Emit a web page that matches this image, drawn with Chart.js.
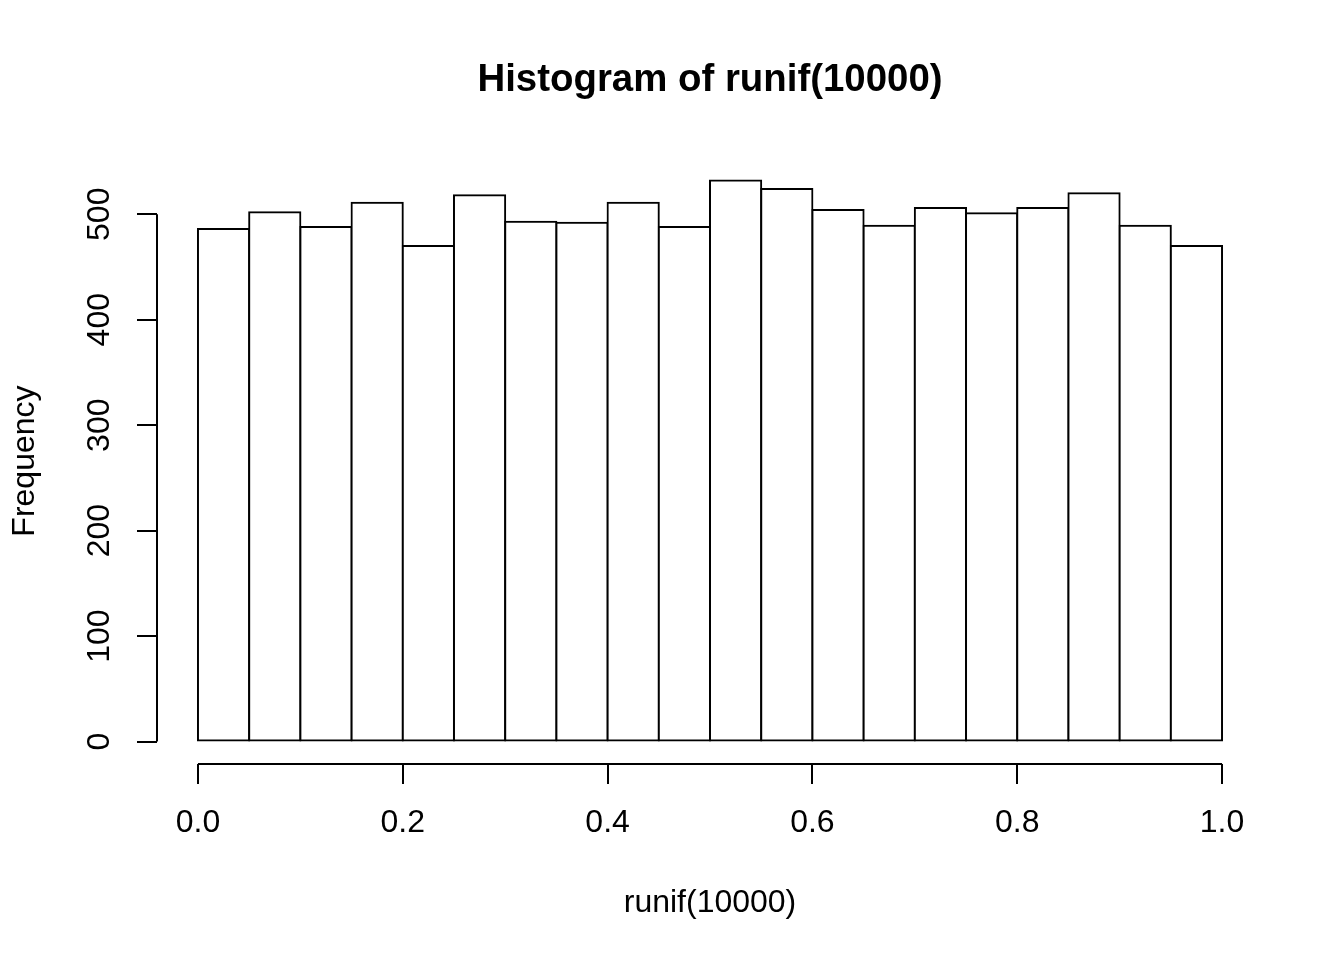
<!DOCTYPE html>
<html>
<head>
<meta charset="utf-8">
<title>Histogram of runif(10000)</title>
<script src="https://cdn.jsdelivr.net/npm/chart.js@4/dist/chart.umd.min.js"></script>
<style>
  html, body { margin: 0; padding: 0; background: #fff; }
  canvas { display: block; }
</style>
</head>
<body>
<canvas id="hist" width="1344" height="960"></canvas>
<script>
'use strict';

// bin edges run 0.00 .. 1.00 in steps of 0.05; centres below
const binCenters = [0.025, 0.075, 0.125, 0.175, 0.225, 0.275, 0.325, 0.375, 0.425, 0.475,
                    0.525, 0.575, 0.625, 0.675, 0.725, 0.775, 0.825, 0.875, 0.925, 0.975];
const counts = [486, 502, 488, 511, 470, 518, 493, 492, 511, 488,
                532, 524, 504, 489, 506, 501, 506, 520, 489, 470];
const xTicks = [0, 0.2, 0.4, 0.6, 0.8, 1.0];
const yTicks = [0, 100, 200, 300, 400, 500];

const FONT = '"Liberation Sans", Arial, Helvetica, sans-serif';
Chart.defaults.font.family = FONT;
Chart.defaults.font.size = 32;
Chart.defaults.color = '#000';

// R pads the data range by 4% on each side
const yMaxData = Math.max(...counts);
const yMin = -0.04 * yMaxData;
const yMax = yMaxData * 1.04;

// axis lines that only span the tick range, like R's axis()
const rAxes = {
  id: 'rAxes',
  afterDatasetsDraw(chart) {
    const { ctx, chartArea, scales: { x, y } } = chart;
    ctx.save();
    ctx.strokeStyle = '#000';
    ctx.lineWidth = 2;
    ctx.beginPath();
    ctx.moveTo(chartArea.left, y.getPixelForValue(yTicks[0]));
    ctx.lineTo(chartArea.left, y.getPixelForValue(yTicks[yTicks.length - 1]));
    ctx.moveTo(x.getPixelForValue(xTicks[0]), chartArea.bottom);
    ctx.lineTo(x.getPixelForValue(xTicks[xTicks.length - 1]), chartArea.bottom);
    ctx.stroke();
    ctx.restore();
  }
};

new Chart(document.getElementById('hist'), {
  type: 'bar',
  data: {
    datasets: [{
      data: binCenters.map((c, i) => ({ x: c, y: counts[i] })),
      backgroundColor: '#fff',
      borderColor: '#000',
      borderWidth: 2,
      borderSkipped: false,
      inflateAmount: 1,   // centre the 2px outline on the bin edges
      barPercentage: 1,
      categoryPercentage: 1,
      grouped: false,
    }]
  },
  options: {
    responsive: false,
    animation: false,
    devicePixelRatio: 1,
    layout: { padding: { left: 0, right: 81, top: 0, bottom: 0 } },
    plugins: {
      legend: { display: false },
      tooltip: { enabled: false },
      title: {
        display: true,
        text: 'Histogram of runif(10000)',
        fullSize: false,
        font: { size: 38.4, weight: 'bold', lineHeight: 1.2 },
        padding: { top: 57, bottom: 55 },
        color: '#000',
      },
    },
    scales: {
      x: {
        type: 'linear',
        min: -0.04,
        max: 1.04,
        offset: false,
        afterBuildTicks: s => { s.ticks = xTicks.map(v => ({ value: v })); },
        afterFit: s => { s.height = 196; },
        grid: { display: true, offset: false, drawOnChartArea: false, drawTicks: true, tickLength: 20, color: '#000', lineWidth: 2 },
        border: { display: false },
        ticks: { padding: 20, maxRotation: 0, callback: v => v.toFixed(1) },
        title: { display: true, text: 'runif(10000)', padding: { top: 0, bottom: 38 }, font: { size: 32, lineHeight: 1.2 } },
      },
      y: {
        type: 'linear',
        min: yMin,
        max: yMax,
        afterBuildTicks: s => { s.ticks = yTicks.map(v => ({ value: v })); },
        afterFit: s => { s.width = 157; },
        grid: { display: true, drawOnChartArea: false, drawTicks: true, tickLength: 20, color: '#000', lineWidth: 2 },
        border: { display: false },
        ticks: { padding: 10, minRotation: 90, maxRotation: 90, crossAlign: 'center' },
        title: { display: true, text: 'Frequency', padding: { top: 6, bottom: 0 }, font: { size: 32, lineHeight: 1.2 } },
      }
    }
  },
  plugins: [rAxes]
});
</script>
</body>
</html>
